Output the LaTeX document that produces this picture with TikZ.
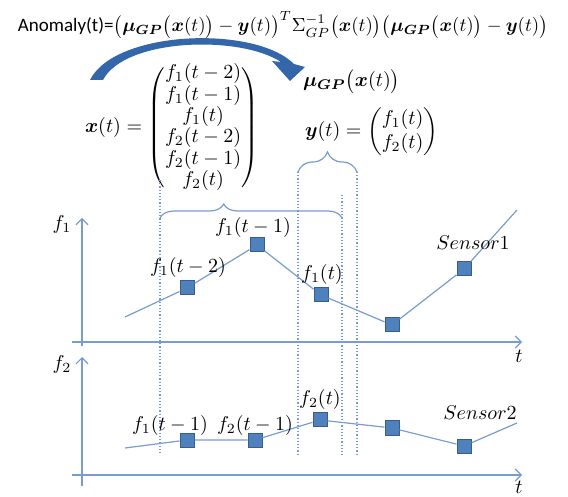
\documentclass[tikz,border=0pt]{standalone}
\usepackage{amsmath}
\usepackage{bm}
\usepackage{fontspec}
\newfontfamily\calib{Carlito}
\usetikzlibrary{arrows.meta,decorations.pathreplacing}

\definecolor{axisblue}{RGB}{120,155,210}
\definecolor{markfill}{RGB}{79,129,189}
\definecolor{markline}{RGB}{56,93,138}
\definecolor{arcblue}{RGB}{52,102,170}

\begin{document}
\begin{tikzpicture}[x=0.5pt, y=-0.5pt, >={Straight Barb[length=3pt]},
    sample/.style={draw=markline, fill=markfill, line width=0.5pt, minimum size=7pt, inner sep=0pt},
    trace/.style={axisblue, line width=0.6pt},
    axis/.style={axisblue, line width=0.6pt, ->},
    guide/.style={axisblue, densely dotted, line width=0.6pt},
    bracket/.style={axisblue, line width=0.6pt, decorate, decoration={brace, amplitude=#1}}]
    \useasboundingbox (0,0) rectangle (568,497);

    % formula and vectors
    \node[scale=0.95, inner sep=0pt] (title) at (283,25) {\calib Anomaly(t)=$\bigl(\bm{\mu_{GP}}\bigl(\bm{x}(t)\bigr)-\bm{y}(t)\bigr)^{T}\Sigma_{GP}^{-1}\bigl(\bm{x}(t)\bigr)\bigl(\bm{\mu_{GP}}\bigl(\bm{x}(t)\bigr)-\bm{y}(t)\bigr)$};
    \fill[arcblue] (90,80) .. controls (115,30) and (255,25) .. (294,64) -- (305,67) -- (290,81)
        -- (272,61) -- (281,62) .. controls (240,35) and (125,38) .. (103,80) -- cycle;
    \node[anchor=west] (muhat) at (296,82) {$\bm{\mu_{GP}}\bigl(\bm{x}(t)\bigr)$};
    \node[anchor=west] (xvec) at (78,128) {$\bm{x}(t)=\renewcommand{\arraystretch}{0.88}\begin{pmatrix} f_1(t-2)\\ f_1(t-1)\\ f_1(t)\\ f_2(t-2)\\ f_2(t-1)\\ f_2(t)\end{pmatrix}$};
    \node[anchor=west] (yvec) at (298,132) {$\bm{y}(t)=\begin{pmatrix} f_1(t)\\ f_2(t)\end{pmatrix}$};

    % braces and guides
    \coordinate (xb1) at (160,218);
    \coordinate (xb2) at (342,218);
    \coordinate (yb1) at (298,172);
    \coordinate (yb2) at (357,172);
    \draw[bracket=7pt, decoration={aspect=0.35}] (xb1) -- (xb2);
    \draw[bracket=10pt] (yb1) -- (yb2);
    \coordinate (g1) at (160,455);
    \coordinate (g2) at (298,455);
    \coordinate (g3) at (342,455);
    \coordinate (g4) at (357,455);
    \draw[guide] (160,180) -- (g1);
    \draw[guide] (yb1) -- (g2);
    \draw[guide] (342,195) -- (g3);
    \draw[guide] (yb2) -- (g4);

    % sensor 1
    \coordinate (f1bot) at (82,346);
    \coordinate (f1top) at (82,218);
    \coordinate (t1l) at (72,342);
    \coordinate (t1r) at (522,342);
    \draw[axis] (f1bot) -- (f1top);
    \draw[axis] (t1l) -- (t1r);
    \node (f1lab) at (62,225) {$f_1$};
    \node (t1lab) at (519,356) {$t$};
    \coordinate (s1in) at (125,317);
    \coordinate (s1out) at (517,210);
    \node[sample] (a1) at (187,288) {};
    \node[sample] (a2) at (257,245) {};
    \node[sample] (a3) at (321,295) {};
    \node[sample] (a4) at (392,325) {};
    \node[sample] (a5) at (464,269) {};
    \draw[trace] (s1in) -- (a1) -- (a2) -- (a3) -- (a4) -- (a5) -- (s1out);
    \node (la1) at (188,268) {$f_1(t-2)$};
    \node (la2) at (253,228) {$f_1(t-1)$};
    \node (la3) at (322,275) {$f_1(t)$};
    \node (la5) at (473,243) {$Sensor1$};

    % sensor 2
    \coordinate (f2bot) at (82,486);
    \coordinate (f2top) at (82,357);
    \coordinate (t2l) at (72,475);
    \coordinate (t2r) at (522,475);
    \draw[axis] (f2bot) -- (f2top);
    \draw[axis] (t2l) -- (t2r);
    \node (f2lab) at (62,365) {$f_2$};
    \node[inner sep=1pt] (t2lab) at (519,487) {$t$};
    \coordinate (s2in) at (125,448);
    \coordinate (s2out) at (517,423);
    \node[sample] (b1) at (187,440) {};
    \node[sample] (b2) at (255,440) {};
    \node[sample] (b3) at (320,420) {};
    \node[sample] (b4) at (392,428) {};
    \node[sample] (b5) at (464,446) {};
    \draw[trace] (s2in) -- (b1) -- (b2) -- (b3) -- (b4) -- (b5) -- (s2out);
    \node (lb1) at (170,425) {$f_1(t-1)$};
    \node (lb2) at (255,425) {$f_2(t-1)$};
    \node (lb3) at (320,400) {$f_2(t)$};
    \node (lb5) at (480,413) {$Sensor2$};
\end{tikzpicture}
\end{document}
